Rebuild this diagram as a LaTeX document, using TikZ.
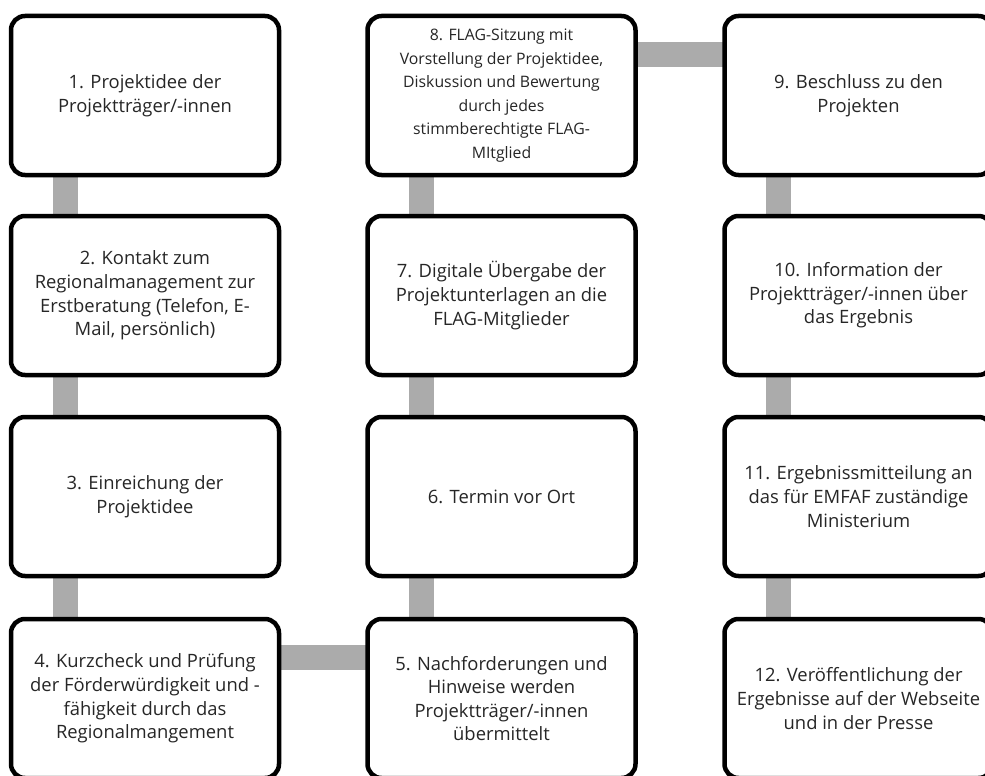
\documentclass[tikz,border=0pt]{standalone}
\usepackage{fontspec}
\setmainfont{Open Sans}
\usetikzlibrary{calc,backgrounds}
\definecolor{conngray}{HTML}{ABABAB}
\definecolor{txt}{HTML}{262626}
\tikzset{
  box/.style={draw=black, fill=white, line width=4.5pt, rounded corners=14pt,
    minimum width=268pt, minimum height=159pt, inner sep=0pt, outer sep=0pt,
    align=center, text=txt, font=\fontsize{18.4}{23.6}\selectfont},
  smalltext/.style={font=\fontsize{15.8}{23.6}\selectfont},
  conn/.style={draw=conngray, line width=25pt}
}
\begin{document}
\begin{tikzpicture}[x=1pt,y=-1pt]
\useasboundingbox (0,0) rectangle (985,776);
\clip (0,0) rectangle (985,776);
% nodes
\node[box] (b1) at (145,95.5) {1. Projektidee der\\Projektträger/-innen};
\node[box] (b2) at (145,295.5) {2. Kontakt zum\\Regionalmanagement zur\\Erstberatung (Telefon, E-\\Mail, persönlich)};
\node[box] (b3) at (145,496.5) {3. Einreichung der\\Projektidee};
\node[box] (b4) at (145,698.5) {4. Kurzcheck und Prüfung\\der Förderwürdigkeit und -\\fähigkeit durch das\\Regionalmangement};
\node[box] (b5) at (501.5,698.5) {5. Nachforderungen und\\Hinweise werden\\Projektträger/-innen\\übermittelt};
\node[box] (b6) at (501.5,496.5) {6. Termin vor Ort};
\node[box] (b7) at (501.5,295.5) {7. Digitale Übergabe der\\Projektunterlagen an die\\FLAG-Mitglieder};
\node[box,smalltext] (b8) at (501.5,95.5) {8. FLAG-Sitzung mit\\Vorstellung der Projektidee,\\Diskussion und Bewertung\\durch jedes\\stimmberechtigte FLAG-\\MItglied};
\node[box] (b9) at (858.5,95.5) {9. Beschluss zu den\\Projekten};
\node[box] (b10) at (858.5,295.5) {10. Information der\\Projektträger/-innen über\\das Ergebnis};
\node[box] (b11) at (858.5,496.5) {11. Ergebnissmitteilung an\\das für EMFAF zuständige\\Ministerium};
\node[box] (b12) at (858.5,698.5) {12. Veröffentlichung der\\Ergebnisse auf der Webseite\\und in der Presse};
% connectors behind boxes
\begin{scope}[on background layer]
\fill[white] (0,0) rectangle (985,776);
\foreach \a/\b in {b1/b2,b2/b3,b3/b4,b5/b6,b6/b7,b7/b8,b9/b10,b10/b11,b11/b12}{
  \draw[conn] ($(\a.south west)+(54.25,0)$) -- ($(\b.north west)+(54.25,0)$);
  \draw[conn] ($(\a.north west)+(54.25,0)$) -- ($(\b.south west)+(54.25,0)$);
}
\draw[conn] ($(b4.north east)+(0,38.5)$) -- ($(b5.north west)+(0,38.5)$);
\draw[conn] ($(b8.north east)+(0,38.5)$) -- ($(b9.north west)+(0,38.5)$);
\end{scope}
\end{tikzpicture}
\end{document}
